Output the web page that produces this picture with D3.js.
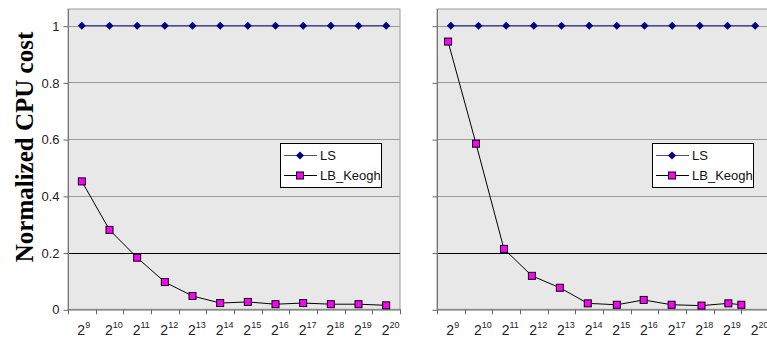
<!DOCTYPE html>
<html><head><meta charset="utf-8">
<script src="https://cdn.jsdelivr.net/npm/d3@7"></script>
<style>body{margin:0;background:#fff}svg{display:block}</style>
</head><body><svg id="c" width="767" height="343"></svg>
<script>
const exponents = [9,10,11,12,13,14,15,16,17,18,19,20];
const yTicks = [0, 0.2, 0.4, 0.6, 0.8, 1];
const lsLeft = [1,1,1,1,1,1,1,1,1,1,1,1];
const keoghLeft = [0.451,0.28,0.182,0.096,0.047,0.022,0.026,0.018,0.022,0.018,0.018,0.014];
const lsRight = [1,1,1,1,1,1,1,1,1,1,1,1];
const keoghRight = [0.944,0.584,0.213,0.118,0.076,0.021,0.016,0.033,0.016,0.013,0.021,0.016];
const keoghRightPos = [-0.1,0.91,1.92,2.93,3.94,4.95,6.0,6.97,7.98,9.06,10.03,10.5];

const svg = d3.select("#c");
const y = d3.scaleLinear().domain([0,1]).range([309.3,25.7]);
const plotTop = 9;
const diamond = "M0,-4L4,0L0,4L-4,0Z";

function panel(x0, x1, ls, keogh, keoghPos, showLabels) {
  const x = d3.scaleBand().domain(exponents).range([x0, x1]);
  const xc = d3.scaleLinear().domain([0, exponents.length]).range([x0, x1]);
  const g = svg.append("g");
  g.append("rect").attr("x", x0).attr("y", plotTop).attr("width", x1-x0).attr("height", y(0)-plotTop)
    .attr("fill", "#e8e8e8").attr("stroke", "#9a9a9a").attr("stroke-width", 1);
  g.selectAll(".grid").data(yTicks.filter(d=>d>0)).join("line")
    .attr("x1", x0).attr("x2", x1).attr("y1", d=>Math.round(y(d))+0.5).attr("y2", d=>Math.round(y(d))+0.5)
    .attr("stroke", d=> d===0.2 ? "#000" : "#9a9a9a").attr("stroke-width", 1);
  const ya = d3.axisLeft(y).tickValues(yTicks).tickSize(5).tickPadding(4)
    .tickFormat(showLabels ? d3.format("") : "");
  const yg = g.append("g").attr("transform", `translate(${x0+0.5},0.5)`).call(ya);
  yg.select(".domain").remove();
  yg.selectAll(".tick line").attr("stroke", "#666");
  yg.selectAll("text").attr("font-family", "Liberation Sans, Arial, sans-serif").attr("font-size", 13).attr("fill", "#222");
  g.append("line").attr("x1", x0+0.5).attr("x2", x0+0.5).attr("y1", plotTop).attr("y2", y(0)).attr("stroke", "#777");
  const xa = d3.axisBottom(x).tickSize(0).tickFormat("");
  const xg = g.append("g").attr("transform", `translate(0,${Math.round(y(0))+0.5})`).call(xa);
  xg.select(".domain").attr("stroke", "#666");
  g.selectAll(".xt").data(d3.range(exponents.length+1)).join("line")
    .attr("x1", d=>Math.round(xc(d))+0.5).attr("x2", d=>Math.round(xc(d))+0.5)
    .attr("y1", y(0)).attr("y2", y(0)+5).attr("stroke", "#666");
  const lab = g.selectAll(".xl").data(exponents).join("text")
    .attr("x", d=>x(d)+x.bandwidth()/2 - 4.5).attr("y", 335)
    .attr("text-anchor", "start")
    .attr("font-family", "Liberation Sans, Arial, sans-serif").attr("font-size", 14).attr("fill", "#222");
  lab.append("tspan").text("2");
  lab.append("tspan").attr("dy", -7).attr("font-size", 9).text(d=>d);
  const cx = (d,i)=> x(exponents[i]) + x.bandwidth()/2;
  const lineLS = d3.line().x((d,i)=>cx(d,i)).y(d=>y(d));
  g.append("path").datum(ls).attr("d", lineLS).attr("fill","none").attr("stroke","#4a4aa8").attr("stroke-width",1.2);
  g.selectAll(".ls").data(ls).join("path")
    .attr("d", diamond)
    .attr("transform",(d,i)=>`translate(${cx(d,i)},${y(d)})`).attr("fill","#000080");
  const kx = (d,i)=> keoghPos ? xc(keoghPos[i]+0.5) : cx(d,i);
  const lineK = d3.line().x((d,i)=>kx(d,i)).y(d=>y(d));
  g.append("path").datum(keogh).attr("d", lineK).attr("fill","none").attr("stroke","#000").attr("stroke-width",1);
  g.selectAll(".kg").data(keogh).join("rect")
    .attr("x",(d,i)=>kx(d,i)-3.5).attr("y",d=>y(d)-3.5).attr("width",7).attr("height",7)
    .attr("fill","#ff00ff").attr("stroke","#000").attr("stroke-width",1);
  return g;
}

function legend(lx, ly) {
  const g = svg.append("g").attr("transform", `translate(${lx},${ly})`);
  g.append("rect").attr("x",0.5).attr("y",0.5).attr("width",101).attr("height",44).attr("fill","#fff").attr("stroke","#000");
  g.append("line").attr("x1",4).attr("x2",37).attr("y1",12.5).attr("y2",12.5).attr("stroke","#4a4aa8").attr("stroke-width",1.2);
  g.append("path").attr("d", diamond).attr("transform","translate(20,12.5)").attr("fill","#000080");
  g.append("text").attr("x",40).attr("y",17).text("LS");
  g.append("line").attr("x1",4).attr("x2",37).attr("y1",32.5).attr("y2",32.5).attr("stroke","#000");
  g.append("rect").attr("x",16.5).attr("y",29).attr("width",7).attr("height",7).attr("fill","#ff00ff").attr("stroke","#000");
  g.append("text").attr("x",40).attr("y",37).text("LB_Keogh");
  g.selectAll("text").attr("font-family","Liberation Sans, Arial, sans-serif").attr("font-size",13).attr("fill","#111");
}

panel(68, 400, lsLeft, keoghLeft, null, true);
panel(437, 769, lsRight, keoghRight, keoghRightPos, false);
legend(280, 143);
legend(652, 143);

svg.append("text").attr("transform","translate(33,147) rotate(-90)")
  .attr("text-anchor","middle").attr("font-family","Liberation Serif, Times New Roman, serif")
  .attr("font-weight","bold").attr("font-size",25).attr("fill","#000").text("Normalized CPU cost");
</script></body></html>
